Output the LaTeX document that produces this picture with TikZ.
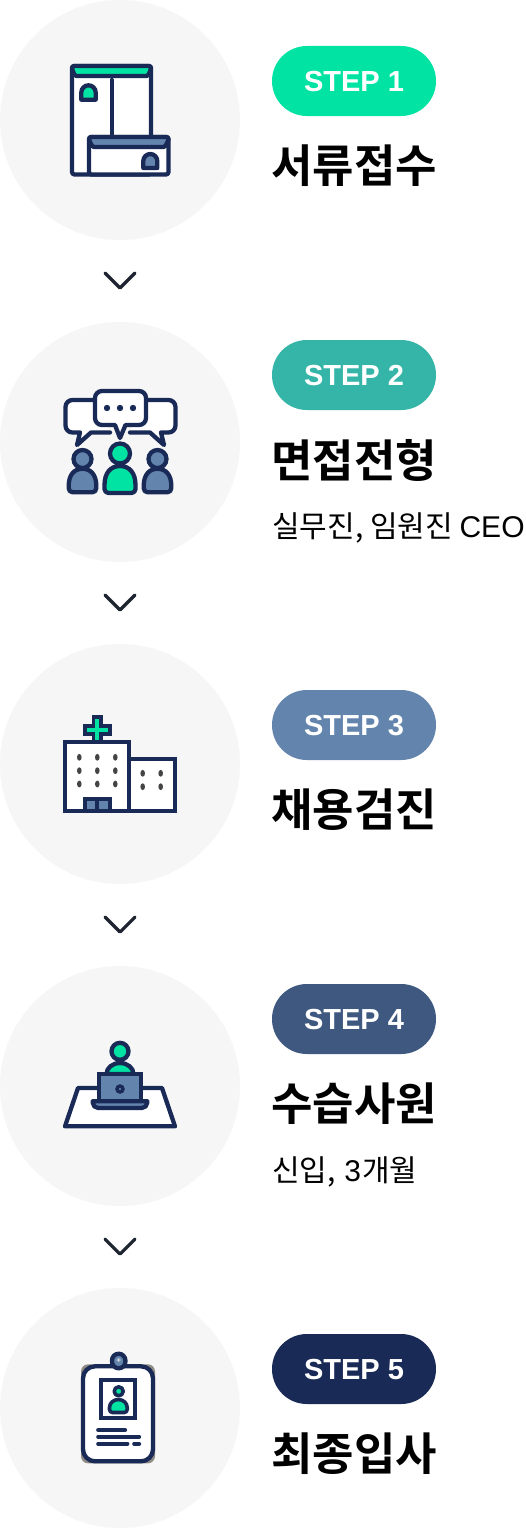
\documentclass[tikz,border=0pt]{standalone}
\usepackage{fontspec}
\setmainfont{Noto Sans CJK KR}
\newfontfamily\krb{Noto Sans CJK KR Bold}
\newfontfamily\lat{Liberation Sans}
\definecolor{navy}{HTML}{1A2A57}
\definecolor{mint}{HTML}{00E3A3}
\definecolor{steel}{HTML}{6385AD}
\definecolor{teal}{HTML}{35B5A8}
\definecolor{slate}{HTML}{3E5880}
\definecolor{disc}{HTML}{F6F6F6}
\definecolor{chev}{HTML}{1E2430}
\definecolor{dots}{HTML}{444444}
\definecolor{halo}{HTML}{8F8C86}
\tikzset{
 x=1pt,y=-1pt,
 disc/.style={fill=disc,draw=none,circle,minimum size=240pt,inner sep=0pt},
 pillbg/.style={rounded corners=34.9pt,minimum width=164pt,minimum height=70pt,inner sep=0pt},
 pilltext/.style={inner sep=0pt,text=white,font=\fontsize{29}{30}\lat\bfseries},
 title/.style={anchor=west,inner sep=0pt,text=black,font=\fontsize{45}{48}\krb},
 sub/.style={anchor=west,inner sep=0pt,text=black,font=\fontsize{30}{34}\selectfont},
 chevron/.style={draw=chev,line width=3.2pt,line cap=round,line join=round},
 ico/.style={draw=navy,line width=4.3pt,line join=round,line cap=round},
 sq/.style={draw=navy,line width=4.3pt,line join=miter,line cap=butt},
 thin/.style={draw=navy,line width=3.6pt,line join=round,line cap=round},
}
\begin{document}
\begin{tikzpicture}
\useasboundingbox (0,0) rectangle (526,1528);
\fill[white] (0,0) rectangle (526,1528);
% discs
\node[disc] (d1) at (120,120) {};
\node[disc] (d2) at (120,442) {};
\node[disc] (d3) at (120,764) {};
\node[disc] (d4) at (120,1086) {};
\node[disc] (d5) at (120,1408) {};
% chevrons
\foreach \y in {273,595,917,1239}{
 \draw[chevron] (105,\y) -- (120,\y+15) -- (135,\y);
}
% pills
\node[pillbg,fill=mint] (p1) at (354,81) {};
\node[pillbg,fill=teal] (p2) at (354,375) {};
\node[pillbg,fill=steel] (p3) at (354,725) {};
\node[pillbg,fill=slate] (p4) at (354,1019) {};
\node[pillbg,fill=navy] (p5) at (354,1369) {};
\node[pilltext] (l1) at (354,81.5) {STEP 1};
\node[pilltext] (l2) at (354,375.5) {STEP 2};
\node[pilltext] (l3) at (354,725.5) {STEP 3};
\node[pilltext] (l4) at (354,1019.5) {STEP 4};
\node[pilltext] (l5) at (354,1369.5) {STEP 5};
% titles
\node[title] (t1) at (271,166) {서류접수};
\node[title] (t2) at (271,460) {면접전형};
\node[sub] (s2) at (272,528) {실무진, 임원진 {\lat CEO}};
\node[title] (t3) at (271,810) {채용검진};
\node[title] (t4) at (271,1104) {수습사원};
\node[sub] (s4) at (272,1172) {신입,\hspace{2pt} {\lat 3}\hspace{1pt}개월};
\node[title] (t5) at (271,1454) {최종입사};
% icon 1
\draw[ico,fill=white,rounded corners=2.5pt] (72,66) rectangle (151,174.5);
\draw[ico,fill=mint,rounded corners=1.5pt] (72,66) -- (151,66) -- (151,69) -- (148,76) -- (75,76) -- (72,69) -- cycle;
\draw[ico] (111.7,80) -- (111.7,136);
\draw[ico,fill=mint] (81.3,99.7) -- (81.3,92.5) arc (180:360:7.2 and 7.2) -- (95.7,99.7) -- cycle;
\draw[ico,fill=white,rounded corners=2.5pt] (89,137) rectangle (168.5,174.5);
\draw[ico,fill=steel,rounded corners=1.5pt] (89,137) -- (168.5,137) -- (168.5,140) -- (165,147) -- (92.5,147) -- (89,140) -- cycle;
\draw[ico,fill=steel] (143.3,168) -- (143.3,161) arc (180:360:7 and 7) -- (157.3,168) -- cycle;
% icon 2
\draw[ico,fill=white] (96,400) [rounded corners=7pt] -- (65.5,400) -- (65.5,432.5) [sharp corners] -- (80,432.5) -- (77,445) -- (91,432.5) -- (110,432.5);
\draw[ico,fill=white] (145,400) [rounded corners=7pt] -- (175.5,400) -- (175.5,432.5) [sharp corners] -- (161,432.5) -- (164,445) -- (150,432.5) -- (130,432.5);
\draw[ico,fill=white] (115,425) [rounded corners=7pt] -- (95,425) -- (95,391) -- (146,391) -- (146,425) [sharp corners] -- (125.5,425) -- (120,438) -- cycle;
\foreach \x/\n in {107/a,120/b,133/c}{\node[fill=navy,circle,inner sep=0pt,minimum size=6.4pt] (dot\n) at (\x,408) {};}
\draw[ico,fill=steel] (82.5,459) circle (9pt);
\draw[ico,fill=steel] (157.5,459) circle (9pt);
\draw[ico,fill=steel] (68.7,486) .. controls (68.7,475) and (74,468.8) .. (82.5,468.8) .. controls (91,468.8) and (96.3,475) .. (96.3,486) -- (96.3,488.3) arc (0:90:4 and 4) -- (72.7,492.3) arc (90:180:4 and 4) -- cycle;
\draw[ico,fill=steel] (143.7,486) .. controls (143.7,475) and (149,468.8) .. (157.5,468.8) .. controls (166,468.8) and (171.3,475) .. (171.3,486) -- (171.3,488.3) arc (0:90:4 and 4) -- (147.7,492.3) arc (90:180:4 and 4) -- cycle;
\draw[ico,fill=mint] (120,453.5) circle (10pt);
\draw[ico,fill=mint] (104.5,485) .. controls (104.5,473) and (110.5,466) .. (120,466) .. controls (129.5,466) and (135.5,473) .. (135.5,485) -- (135.5,489) arc (0:90:4 and 4) -- (108.5,493) arc (90:180:4 and 4) -- cycle;
% icon 3
\draw[sq,fill=white] (65.3,742) rectangle (129,810.7);
\draw[sq,fill=white] (129,759) rectangle (174.7,810.7);
\draw[sq,fill=steel] (84.7,799) rectangle (97.2,810.7);
\draw[sq,fill=steel] (97.2,799) rectangle (109.7,810.7);
\draw[sq,fill=navy] (93.8,717) -- (101.2,717) -- (101.2,726) -- (109.7,726) -- (109.7,733.7) -- (101.2,733.7) -- (101.2,742) -- (93.8,742) -- (93.8,733.7) -- (84.8,733.7) -- (84.8,726) -- (93.8,726) -- cycle;
\draw[mint,line width=4pt] (97.4,719.3) -- (97.4,740);
\draw[mint,line width=4pt] (86.7,729.7) -- (107.7,729.7);
\foreach \x in {79.3,97.3,115.3}{\foreach \y in {757.3,770.7,784}{\fill[dots] (\x,\y) ellipse (2.3pt and 3.4pt);}}
\foreach \x in {142.7,160.7}{\foreach \y in {773.3,786.7}{\fill[dots] (\x,\y) ellipse (2.3pt and 3.4pt);}}
% icon 4
\draw[ico,fill=white] (78,1088) -- (162,1088) -- (175,1126.3) -- (65,1126.3) -- cycle;
\draw[ico,fill=mint] (120,1051.3) circle (8.5pt);
\draw[ico,fill=mint] (106.5,1074) arc (180:360:13.5 and 11) -- cycle;
\draw[sq,fill=steel] (99.3,1073.7) rectangle (140.7,1102);
\draw[ico,fill=steel] (92.7,1101.3) -- (147.3,1101.3) -- (147.3,1102.5) arc (0:90:5.5 and 5.5) -- (98.2,1108) arc (90:180:5.5 and 5.5) -- cycle;
\draw[navy,line width=3.4pt,fill=steel] (120,1089) circle (3pt);
% icon 5
\fill[halo,rounded corners=7pt] (81,1364.3) rectangle (155,1463.3);
\draw[ico,fill=white,rounded corners=12pt] (83,1366.3) rectangle (153,1461.3);
\draw[ico,fill=steel] (112,1360.4) arc (180:360:6.7 and 6.7) -- (125.4,1361.6) arc (0:180:6.7 and 6.7) -- cycle;
\draw[white!65!navy,line width=1pt,fill=white] (118.7,1360) circle (1.5pt);
\draw[sq,fill=white] (101.3,1380.3) rectangle (135.3,1418);
\draw[thin,fill=mint] (118.7,1391.3) circle (4.5pt);
\draw[thin,fill=mint] (109.5,1407.5) arc (180:360:8.85 and 8) -- (127.2,1409.5) arc (0:90:3 and 3) -- (112.5,1412.5) arc (90:180:3 and 3) -- cycle;
\draw[ico] (98.3,1430) -- (125,1430);
\draw[ico] (98.3,1436.7) -- (139,1436.7);
\draw[ico] (98.3,1443.7) -- (127.3,1443.7);
\draw[ico] (134.3,1443.7) -- (139,1443.7);
\end{tikzpicture}
\end{document}
